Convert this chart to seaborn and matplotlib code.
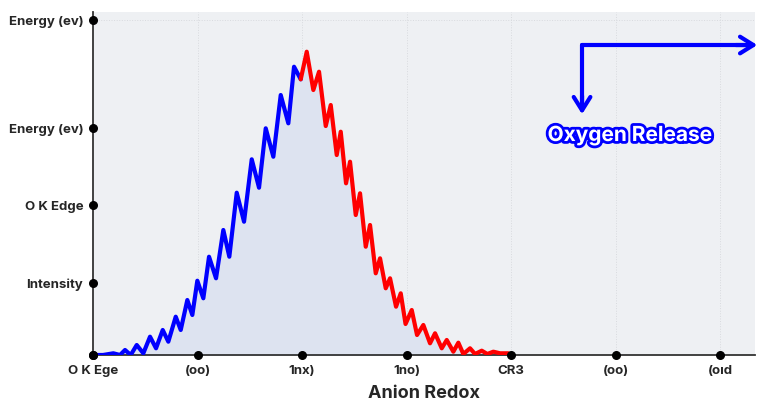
import matplotlib
matplotlib.use("Agg")
import matplotlib.pyplot as plt
import matplotlib.patheffects as pe
import seaborn as sns

blue_x = [0, 10, 20.3, 27, 32, 37.7, 43.7, 50.3, 57, 63, 69.7, 75.3, 82.7, 87.7, 94.3, 99.3, 104.3, 110.3,
          116, 123, 130.3, 136.3, 143.7, 151, 158.7, 166, 172.7, 180.3, 187.7, 195.3, 201, 207.7]
blue_y = [0, 0, 1.7, 0, 5, 0, 10, 1.7, 18.3, 6.7, 25, 13.3, 38.3, 25, 55, 40, 74.3, 56.7,
          98.3, 76.7, 125, 98.3, 162.3, 133.3, 195.7, 167.3, 226.7, 198.3, 260, 231.7, 288.3, 275.7]
red_x = [207.7, 213.7, 220.3, 226, 232.7, 237.7, 243.7, 247.7, 253, 257, 262.7, 267, 272.7, 277, 282.7,
         287, 292.7, 297, 303, 307.7, 312.5, 318.7, 324, 330.3, 337, 342, 348.7, 353.7, 360.3, 365.3,
         370.3, 377, 382, 388.7, 394.3, 400.3, 407, 415.3]
red_y = [275.7, 303.3, 265, 283.3, 229, 250, 200, 223.3, 171.7, 193.3, 140, 161.7, 108.3, 130, 81.7,
         96.7, 66.7, 76.7, 48.3, 61.7, 31, 45, 20, 30, 11.7, 21.7, 6.7, 15, 3.3, 12.3,
         1, 6.7, 1, 4.3, 1, 3.3, 1.7, 1.7]
x_ticks = [0, 104.5, 209, 313.5, 418, 522.5, 627]
x_labels = ["O K Ege", "(oo)", "1nx)", "1no)", "CR3", "(oo)", "(oıd"]
y_ticks = [0, 72, 150, 227, 335]
y_labels = ["", "Intensity", "O K Edge", "Energy (ev)", "Energy (ev)"]

sns.set_theme(style="white")
plt.rcParams['font.family'] = ['Inter', 'DejaVu Sans']
fig = plt.figure(figsize=(7.65, 4.15), dpi=100)
ax = fig.add_axes([0.1216, 0.1446, 0.987 - 0.1216, 0.971 - 0.1446])
ax.set_facecolor("#eef0f3")

ax.fill_between(blue_x + red_x[1:], blue_y + red_y[1:], 0, color="#dde3f0", zorder=1)
sns.lineplot(x=blue_x, y=blue_y, ax=ax, color="#0000ff", lw=3, sort=False, zorder=3,
             solid_joinstyle="round", solid_capstyle="round")
sns.lineplot(x=red_x, y=red_y, ax=ax, color="#ff0000", lw=3, sort=False, zorder=3,
             solid_joinstyle="round", solid_capstyle="round")

ax.set_xlim(0, 662)
ax.set_ylim(0, 343)
for xt in x_ticks[1:]:
    ax.axvline(xt, color="#d8dade", lw=0.7, ls=":", zorder=0)
ax.axhline(y_ticks[-1], color="#d8dade", lw=0.7, ls=":", zorder=0)

ax.scatter(x_ticks, [0] * len(x_ticks), s=30, color="black", clip_on=False, zorder=5)
ax.scatter([0] * len(y_ticks), y_ticks, s=30, color="black", clip_on=False, zorder=5)
for s in ["top", "right"]:
    ax.spines[s].set_visible(False)
for s in ["left", "bottom"]:
    ax.spines[s].set_color("#333333")
    ax.spines[s].set_linewidth(1.3)

ax.set_xticks(x_ticks)
ax.set_xticklabels(x_labels, fontsize=9.5, fontweight="bold")
ax.set_yticks(y_ticks)
ax.set_yticklabels(y_labels, fontsize=9.5, fontweight="bold")
ax.tick_params(length=0, pad=7)
ax.set_xlabel("Anion Redox", fontsize=13, fontweight="bold", labelpad=6)

ax.plot([489, 489], [310, 248], color="#0000ff", lw=3, clip_on=False, zorder=6)
ax.plot([489, 656], [310, 310], color="#0000ff", lw=3, clip_on=False, zorder=6)
ax.annotate("", xy=(489, 238), xytext=(489, 262),
            arrowprops=dict(arrowstyle="->,head_length=0.8,head_width=0.5", color="#0000ff", lw=3))
ax.annotate("", xy=(667, 310), xytext=(640, 310), annotation_clip=False,
            arrowprops=dict(arrowstyle="->,head_length=0.8,head_width=0.5", color="#0000ff", lw=3))
ax.text(537, 220, "Oxygen Release", ha="center", va="center", fontsize=15, fontweight="bold",
        color="white", path_effects=[pe.Stroke(linewidth=4, foreground="#0000ff"), pe.Normal()], zorder=7)

fig.savefig("out.png", dpi=100)
